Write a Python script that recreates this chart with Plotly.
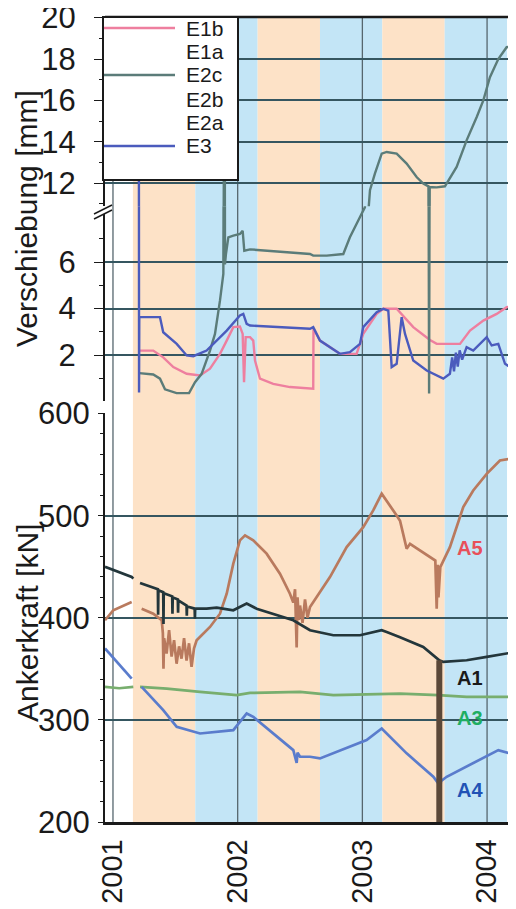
import plotly.graph_objects as go

# ---------------- data ----------------
YEAR_TICKS = [2001, 2002, 2003, 2004]
BAND_EDGES = [2001.16, 2001.66, 2002.16, 2002.66, 2003.16, 2003.66, 2004.16]
BAND_KINDS = ["orange", "blue", "orange", "blue", "orange", "blue"]

# Verschiebung [mm]  (year, mm)
E1B = [(2001.217, 2.19), (2001.323, 2.19), (2001.403, 1.90), (2001.484, 1.48), (2001.591, 1.19),
       (2001.671, 1.12), (2001.698, 1.12), (2001.778, 1.41), (2001.858, 2.05), (2001.912, 2.62),
       (2001.965, 3.20), (2002.018, 3.23), (2002.040, 2.91), (2002.051, 0.83), (2002.064, 2.77),
       (2002.099, 2.77), (2002.125, 2.62), (2002.139, 1.76), (2002.179, 0.98), (2002.285, 0.76),
       (2002.419, 0.62), (2002.606, 0.55), (2002.608, 3.13), (2002.660, 2.62), (2002.820, 2.05),
       (2002.954, 2.05), (2003.007, 2.91), (2003.115, 3.77), (2003.168, 3.99), (2003.275, 3.99),
       (2003.408, 3.20), (2003.542, 2.65), (2003.596, 2.48), (2003.783, 2.48), (2003.863, 3.05),
       (2003.970, 3.48), (2004.077, 3.77), (2004.157, 4.06), (2004.232, 4.15)]

E2C = [(2001.211, 1.22), (2001.323, 1.16), (2001.377, 0.98), (2001.417, 0.52), (2001.510, 0.36),
       (2001.610, 0.36), (2001.658, 0.83), (2001.711, 1.19), (2001.778, 2.19), (2001.818, 2.91),
       (2001.858, 4.34), (2001.885, 5.49), (2001.896, 25.0), (2001.898, 5.90), (2001.906, 6.35),
       (2001.925, 7.07), (2001.965, 7.14), (2002.018, 7.21), (2002.040, 7.35), (2002.053, 6.49),
       (2002.099, 6.55), (2002.232, 6.49), (2002.366, 6.45), (2002.580, 6.35), (2002.606, 6.28),
       (2002.714, 6.28), (2002.847, 6.35), (2002.900, 7.07), (2002.980, 7.93), (2003.020, 8.36),
       (2003.061, 11.66), (2003.101, 12.47), (2003.155, 13.43), (2003.195, 13.51), (2003.275, 13.43),
       (2003.355, 12.95), (2003.435, 12.30), (2003.488, 11.98), (2003.530, 11.85), (2003.535, 0.34),
       (2003.540, 11.82), (2003.596, 11.80), (2003.649, 11.82), (2003.662, 11.85), (2003.756, 12.79),
       (2003.836, 14.07), (2003.917, 15.20), (2003.970, 16.00), (2004.023, 17.12), (2004.090, 18.00),
       (2004.157, 18.57), (2004.232, 18.65)]

E3 = [(2001.207, 25.0), (2001.209, 0.39), (2001.211, 3.63), (2001.377, 3.63), (2001.403, 2.98),
      (2001.511, 2.48), (2001.591, 1.98), (2001.644, 1.95), (2001.751, 2.19), (2001.912, 3.05),
      (2002.018, 3.70), (2002.045, 3.77), (2002.072, 3.34), (2002.099, 3.27), (2002.580, 3.13),
      (2002.606, 3.20), (2002.660, 2.62), (2002.820, 2.05), (2002.900, 2.12), (2002.981, 2.48),
      (2003.007, 3.20), (2003.115, 3.84), (2003.168, 3.99), (2003.208, 3.91), (2003.235, 1.48),
      (2003.275, 1.62), (2003.315, 3.63), (2003.342, 2.91), (2003.408, 1.76), (2003.516, 1.33),
      (2003.649, 0.98), (2003.702, 1.19), (2003.720, 1.90), (2003.735, 1.30), (2003.750, 2.10),
      (2003.765, 1.50), (2003.780, 2.20), (2003.800, 1.80), (2003.836, 2.34), (2003.889, 2.19),
      (2003.997, 2.77), (2004.037, 2.41), (2004.090, 2.48), (2004.144, 1.62), (2004.184, 1.48),
      (2004.232, 1.48)]

# Ankerkraft [kN]  (year, kN); None = gap in the record
A1 = [(2000.936, 450.0), (2001.150, 440.0), (2001.163, 438.3), None,
      (2001.217, 434.0), (2001.350, 428.5), (2001.360, 428.0), (2001.362, 403.0), (2001.364, 427.0),
      (2001.403, 425.0), (2001.405, 394.0), (2001.407, 424.0), (2001.475, 421.0), (2001.477, 404.0),
      (2001.479, 420.0), (2001.520, 418.0), (2001.522, 405.0), (2001.524, 417.0), (2001.590, 412.0),
      (2001.592, 402.0), (2001.594, 411.0), (2001.655, 409.0), (2001.657, 399.0), (2001.659, 409.0),
      (2001.751, 408.9), (2001.832, 409.9), (2001.965, 407.3), (2002.072, 413.9), (2002.152, 408.9),
      (2002.285, 404.0), (2002.446, 397.6), (2002.580, 387.8), (2002.767, 382.9), (2002.981, 382.9),
      (2003.155, 387.8), (2003.195, 386.0), (2003.302, 381.0), (2003.488, 371.4), (2003.569, 363.3),
      (2003.617, 358.4), (2003.649, 356.8), (2003.836, 358.4), (2003.997, 361.7), (2004.184, 365.6),
      (2004.232, 365.0)]
A1_DROP = [(2003.617, 358.4), (2003.617, 195.0)]

A3 = [(2000.936, 332.3), (2001.050, 331.0), (2001.163, 332.3), None,
      (2001.217, 332.3), (2001.431, 330.7), (2001.698, 327.4), (2001.992, 324.2), (2002.099, 326.4),
      (2002.500, 327.4), (2002.767, 324.2), (2003.302, 325.8), (2003.609, 324.2), (2003.836, 322.5),
      (2004.232, 322.5)]

A4 = [(2000.936, 369.9), (2001.150, 340.5), None,
      (2001.230, 332.3), (2001.403, 309.5), (2001.511, 293.2), (2001.644, 288.3), (2001.698, 286.7),
      (2001.965, 290.0), (2002.072, 306.3), (2002.125, 303.0), (2002.285, 286.7), (2002.446, 270.4),
      (2002.473, 258.0), (2002.480, 268.0), (2002.500, 263.9), (2002.580, 263.9), (2002.660, 262.3),
      (2003.034, 280.2), (2003.155, 291.6), (2003.195, 286.7), (2003.355, 267.2), (2003.569, 244.3),
      (2003.609, 237.8), (2003.622, 228.1), (2003.630, 240.0), (2003.676, 244.3), (2003.889, 257.4),
      (2004.090, 270.4), (2004.184, 267.2), (2004.232, 262.3)]

A5 = [(2000.936, 397.6), (2001.002, 407.3), (2001.150, 415.5), None,
      (2001.230, 408.9), (2001.323, 404.0), (2001.391, 397.6), (2001.400, 385.0), (2001.405, 350.0),
      (2001.410, 380.0), (2001.430, 365.0), (2001.450, 388.0), (2001.470, 362.0), (2001.490, 378.0),
      (2001.510, 355.0), (2001.530, 372.0), (2001.550, 360.0), (2001.570, 380.0), (2001.590, 358.0),
      (2001.610, 375.0), (2001.630, 352.0), (2001.650, 370.0), (2001.671, 378.0), (2001.778, 391.0),
      (2001.858, 404.0), (2001.912, 423.6), (2001.965, 453.0), (2002.018, 475.8), (2002.059, 480.7),
      (2002.125, 475.8), (2002.232, 462.8), (2002.339, 443.2), (2002.419, 423.6), (2002.446, 415.0),
      (2002.460, 428.0), (2002.473, 371.0), (2002.480, 420.0), (2002.490, 398.0), (2002.500, 412.0),
      (2002.520, 395.0), (2002.540, 418.0), (2002.560, 400.0), (2002.580, 410.5), (2002.634, 420.3),
      (2002.740, 439.9), (2002.874, 469.2), (2003.007, 488.8), (2003.087, 505.1), (2003.155, 521.5),
      (2003.275, 500.2), (2003.302, 495.0), (2003.355, 467.7), (2003.382, 472.5), (2003.585, 456.0),
      (2003.596, 409.0), (2003.605, 452.0), (2003.610, 420.0), (2003.625, 449.7), (2003.702, 469.2),
      (2003.809, 508.4), (2003.889, 524.7), (2003.997, 541.0), (2004.103, 554.0), (2004.184, 555.6),
      (2004.232, 539.4)]

E_SERIES = [("E1b", E1B), ("E2c", E2C), ("E3", E3)]
LEGEND_LABELS = ["E1b", "E1a", "E2c", "E2b", "E2a", "E3"]
A_LABELS = [("A5", 2003.863, 468.0), ("A1", 2003.863, 340.8), ("A3", 2003.863, 301.7), ("A4", 2003.863, 231.3)]

# ---------------- styles ----------------
COLORS = {"E1b": "#ee7f9f", "E2c": "#5b7c79", "E3": "#4b5bbd",
          "A1": "#23363b", "A3": "#78ae6e", "A4": "#5a7ccc", "A5": "#b97a5e",
          "A1_DROP": "#5b4838"}
LABEL_COLORS = {"A5": "#e8505a", "A1": "#1a1a1a", "A3": "#1fae62", "A4": "#2152b5"}
BAND_COLORS = {"orange": "#fde2c7", "blue": "#c3e5f6"}
GRID_H = "#355660"
GRID_V = "#56666e"
FONT = "Liberation Sans, Arial, Helvetica, sans-serif"

# the page body has an 8px margin, so the figure is 8px smaller and its margins shifted
PAGE_OFF = 8
W, H = 516 - PAGE_OFF, 909 - PAGE_OFF
ML, MR, MT, MB = 105 - PAGE_OFF, 0, 17 - PAGE_OFF, 87
PW, PH = W - ML - MR, H - MT - MB


def px(x):
    """screen pixel x of the reference -> paper fraction"""
    return (x - PAGE_OFF - ML) / PW


def py(y):
    """screen pixel y of the reference -> paper fraction"""
    return (H - MB - (y - PAGE_OFF)) / PH


def split(points):
    xs, ys = [], []
    for p in points:
        if p is None:
            xs.append(None)
            ys.append(None)
        else:
            xs.append(p[0])
            ys.append(p[1])
    return xs, ys


fig = go.Figure()

for name, pts in E_SERIES:
    x, y = split(pts)
    for ya in ("y2", "y3"):
        fig.add_trace(go.Scatter(x=x, y=y, mode="lines", xaxis="x", yaxis=ya,
                                 line=dict(color=COLORS[name], width=2.4),
                                 showlegend=False, hoverinfo="skip", name=name))

for name, pts in [("A5", A5), ("A1", A1), ("A3", A3), ("A4", A4)]:
    x, y = split(pts)
    fig.add_trace(go.Scatter(x=x, y=y, mode="lines", xaxis="x", yaxis="y",
                             line=dict(color=COLORS[name], width=2.7),
                             showlegend=False, hoverinfo="skip", name=name))

x, y = split(A1_DROP)
fig.add_trace(go.Scatter(x=x, y=y, mode="lines", xaxis="x", yaxis="y",
                         line=dict(color=COLORS["A1_DROP"], width=6),
                         showlegend=False, hoverinfo="skip"))

shapes = []
# seasonal background bands
for i, kind in enumerate(BAND_KINDS):
    shapes.append(dict(type="rect", xref="x", yref="paper", x0=BAND_EDGES[i], x1=BAND_EDGES[i + 1],
                       y0=0, y1=1, fillcolor=BAND_COLORS[kind], line=dict(width=0), layer="below"))
# vertical year grid lines through all panels
for yr in YEAR_TICKS:
    shapes.append(dict(type="line", xref="x", yref="paper", x0=yr, x1=yr, y0=0, y1=1,
                       line=dict(color=GRID_V, width=1.3), layer="below"))
# top frame
shapes.append(dict(type="line", xref="paper", yref="paper", x0=0, x1=1, y0=1, y1=1,
                   line=dict(color="#1a1a1a", width=2.5), layer="above"))
# legend box
shapes.append(dict(type="rect", xref="paper", yref="paper", x0=px(103), x1=px(238), y0=py(180), y1=py(17),
                   fillcolor="white", line=dict(color="#1a1a1a", width=2), layer="above"))
legend_rows = [28, 52, 75, 99, 122, 146]
legend_line_color = {"E1b": COLORS["E1b"], "E2c": COLORS["E2c"], "E3": COLORS["E3"]}
annotations = []
for lab, ry in zip(LEGEND_LABELS, legend_rows):
    if lab in legend_line_color:
        shapes.append(dict(type="line", xref="paper", yref="paper", x0=px(104), x1=px(175), y0=py(ry), y1=py(ry),
                           line=dict(color=legend_line_color[lab], width=2.3), layer="above"))
    annotations.append(dict(text=lab, xref="paper", yref="paper", x=px(184), y=py(ry), xanchor="left",
                            yanchor="middle", showarrow=False, font=dict(size=21, color="#1a1a1a", family=FONT)))
# axis break marks
shapes.append(dict(type="rect", xref="paper", yref="paper", x0=px(101), x1=px(109), y0=py(214), y1=py(206),
                   fillcolor="white", line=dict(width=0), layer="above"))
for off in (0, 5):
    shapes.append(dict(type="line", xref="paper", yref="paper", x0=px(94), x1=px(112),
                       y0=py(214 + off), y1=py(205 + off), line=dict(color="#1a1a1a", width=1.5), layer="above"))

# axis titles
annotations.append(dict(text="Verschiebung [mm]", xref="paper", yref="paper", x=px(27), y=py(219),
                        textangle=-90, showarrow=False, xanchor="center", yanchor="middle",
                        font=dict(size=30, color="#1a1a1a", family=FONT)))
annotations.append(dict(text="Ankerkraft [kN]", xref="paper", yref="paper", x=px(27), y=py(623),
                        textangle=-90, showarrow=False, xanchor="center", yanchor="middle",
                        font=dict(size=30, color="#1a1a1a", family=FONT)))
for lab, lx, ly in A_LABELS:
    annotations.append(dict(text="<b>%s</b>" % lab, xref="x", yref="y", x=lx, y=ly, showarrow=False,
                            font=dict(size=20, color=LABEL_COLORS[lab], family=FONT)))

common_y = dict(anchor="x", zeroline=False, showline=True, linecolor="#1a1a1a", linewidth=2,
                showgrid=True, gridcolor=GRID_H, gridwidth=1.5, tickcolor="#1a1a1a", automargin=False,
                ticklabeloverflow="allow",
                tickfont=dict(size=31, color="#1a1a1a", family=FONT), fixedrange=True)

fig.update_layout(
    width=W, height=H, margin=dict(l=ML, r=MR, t=MT, b=MB, autoexpand=False),
    paper_bgcolor="white", plot_bgcolor="rgba(0,0,0,0)", showlegend=False,
    font=dict(family=FONT, color="#1a1a1a"),
    xaxis=dict(domain=[0, 1], range=[2000.936, 2004.232], anchor="y", tickmode="array",
               tickvals=YEAR_TICKS, ticktext=[str(v) for v in YEAR_TICKS], tickangle=-90,
               tickfont=dict(size=29, color="#1a1a1a", family=FONT), showgrid=False, zeroline=False,
               showline=True, linecolor="#1a1a1a", linewidth=2.5, ticks="", ticklabelstandoff=3,
               ticklabeloverflow="allow", automargin=False, fixedrange=True),
    yaxis=dict(domain=[0, 0.508], range=[200, 600.5], tickmode="array", tickvals=[200, 300, 400, 500, 600],
               ticks="outside", ticklen=5, ticklabelstandoff=2,
               minor=dict(dtick=20, ticks="outside", ticklen=3, tickcolor="#1a1a1a", showgrid=False),
               **common_y),
    yaxis2=dict(domain=[0.523, 0.765], range=[0.02, 8.41], tickmode="array", tickvals=[2, 4, 6],
                ticks="outside", ticklen=9, ticklabelstandoff=12,
                minor=dict(tickmode="array", tickvals=[1, 3, 5, 7], ticks="outside", ticklen=4,
                           tickcolor="#1a1a1a", showgrid=False),
                **common_y),
    yaxis3=dict(domain=[0.765, 1.0], range=[10.89, 20.03], tickmode="array", tickvals=[12, 14, 16, 18, 20],
                ticks="outside", ticklen=9, ticklabelstandoff=12,
                minor=dict(tickmode="array", tickvals=[11, 13, 15, 17, 19], ticks="outside", ticklen=4,
                           tickcolor="#1a1a1a", showgrid=False),
                **common_y),
    shapes=shapes, annotations=annotations,
)

fig.write_html("out.html")
